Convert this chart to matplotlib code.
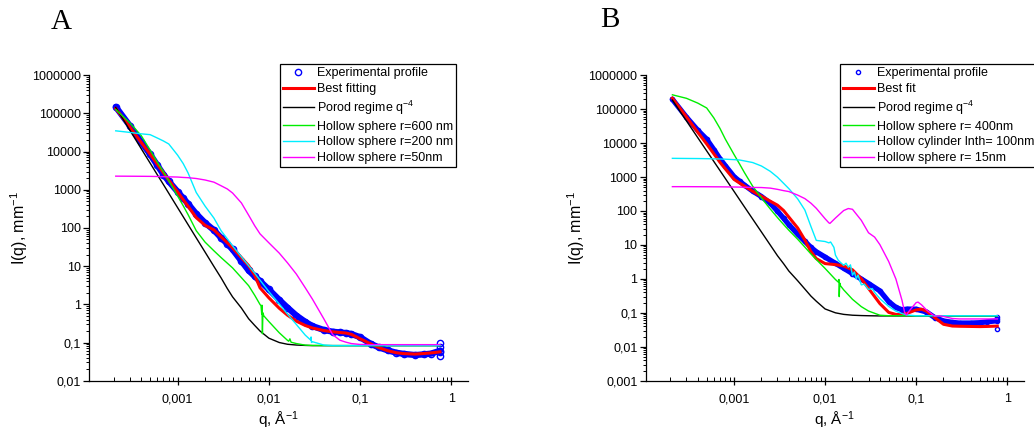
import numpy as np
import matplotlib
matplotlib.use("Agg")
import matplotlib.pyplot as plt
from matplotlib.ticker import LogLocator, NullFormatter

plt.rcParams['font.family'] = ['Liberation Sans', 'DejaVu Sans']
plt.rcParams['mathtext.default'] = 'regular'

# ---------------- Panel A data ----------------
qa = [2.1e-4, 3e-4, 4e-4, 5e-4, 6e-4, 7e-4, 8e-4, 1e-3, 1.15e-3, 1.3e-3, 1.6e-3,
      2e-3, 2.5e-3, 3e-3, 3.5e-3, 4e-3, 5e-3, 6e-3, 7e-3, 8e-3, 0.01, 0.013, 0.016,
      0.02, 0.025, 0.03, 0.04, 0.05, 0.06, 0.07, 0.08, 0.1, 0.13, 0.16, 0.2, 0.25,
      0.3, 0.4, 0.5, 0.6, 0.75]
a_exp = [1.48e5, 4.72e4, 1.76e4, 8.47e3, 4.35e3, 2.5e3, 1.66e3, 889, 603, 430, 234,
         136, 87.5, 55, 38.5, 27.3, 13.6, 7.7, 5.4, 4.05, 2.45, 1.31, 0.82,
         0.51, 0.35, 0.27, 0.213, 0.192, 0.184, 0.177, 0.167, 0.138, 0.093, 0.0746, 0.0625, 0.054,
         0.0504, 0.047, 0.049, 0.0513, 0.061]
a_exp_end_q = [0.75, 0.75, 0.75, 0.75]
a_exp_end_I = [0.1, 0.045, 0.075, 0.055]
a_fit = [1.34e5, 4.37e4, 1.72e4, 8.55e3, 4.62e3, 2.77e3, 1.79e3, 871, 553, 372, 186,
         117, 89, 58, 41, 30, 16.7, 10.3, 5.8, 2.71, 1.48, 0.79, 0.52,
         0.363, 0.28, 0.24, 0.206, 0.191, 0.183, 0.177, 0.164, 0.125, 0.093, 0.0736, 0.0612, 0.054,
         0.0513, 0.0498, 0.0516, 0.0535, 0.057]
a_porod = [1.43e5, 3.6e4, 1.18e4, 4.98e3, 2.46e3, 1.36e3, 809, 340, 198, 123, 55,
           23.3, 9.8, 4.9, 2.6, 1.57, 0.8, 0.42, 0.28, 0.2, 0.13, 0.1, 0.09,
           0.086, 0.084, 0.083, 0.083, 0.083, 0.083, 0.083, 0.083, 0.083, 0.083, 0.083, 0.083, 0.083,
           0.083, 0.083, 0.083, 0.083, 0.083]
q_a600 = [2.1e-4, 3e-4, 4e-4, 5e-4, 6e-4, 7e-4, 8e-4, 1e-3, 1.15e-3, 1.3e-3, 1.6e-3,
          2e-3, 2.5e-3, 3e-3, 3.5e-3, 4e-3, 5e-3, 6e-3, 7e-3, 8e-3, 0.0082, 0.00835, 0.0084,
          0.0085, 0.0086, 0.0088, 0.01, 0.013, 0.016, 0.0165, 0.017, 0.0175, 0.02, 0.025,
          0.03, 0.05, 0.1, 0.3, 0.75]
a_600 = [1.26e5, 5.65e4, 2.6e4, 1.09e4, 5.24e3, 2.91e3, 1.72e3, 686, 384, 225, 84.7,
         42.5, 25.2, 16.7, 12, 9, 5.0, 3.08, 1.72, 0.99, 0.92, 0.55, 0.95,
         0.17, 0.6, 0.5, 0.354, 0.18, 0.114, 0.108, 0.125, 0.102, 0.094, 0.0855,
         0.084, 0.083, 0.083, 0.083, 0.083]
q_a200 = [2.1e-4, 3e-4, 4e-4, 5e-4, 6e-4, 7e-4, 8e-4, 1e-3, 1.15e-3, 1.3e-3, 1.6e-3,
          2e-3, 2.5e-3, 3e-3, 3.5e-3, 4e-3, 5e-3, 6e-3, 7e-3, 8e-3, 0.01, 0.013, 0.016,
          0.02, 0.025, 0.0288, 0.029, 0.0293, 0.03, 0.04, 0.05, 0.1, 0.3, 0.75]
a_200 = [3.49e4, 3.17e4, 2.91e4, 2.77e4, 2.26e4, 1.89e4, 1.58e4, 8.05e3, 4.87e3, 2.78e3, 847,
         373, 181, 84, 52, 33.9, 17.5, 10.3, 6.5, 4.3, 2.15, 1.02, 0.556,
         0.297, 0.157, 0.115, 0.14, 0.1, 0.105, 0.086, 0.083, 0.083, 0.083, 0.083]
a_50 = [2.27e3, 2.26e3, 2.25e3, 2.24e3, 2.22e3, 2.2e3, 2.18e3, 2.15e3, 2.1e3, 2.07e3, 1.97e3,
        1.8e3, 1.58e3, 1.27e3, 1.05e3, 822, 452, 216, 114, 70, 40.8, 21.9, 12.2,
        6.2, 2.73, 1.37, 0.418, 0.161, 0.115, 0.102, 0.094, 0.089, 0.088, 0.088, 0.088, 0.088,
        0.088, 0.088, 0.088, 0.088, 0.088]

# ---------------- Panel B data ----------------
qb = [2.1e-4, 3e-4, 4e-4, 5e-4, 6e-4, 7e-4, 8e-4, 1e-3, 1.15e-3, 1.3e-3, 1.6e-3,
      2e-3, 2.5e-3, 3e-3, 3.5e-3, 4e-3, 5e-3, 6e-3, 7e-3, 8e-3, 0.01, 0.013, 0.016,
      0.02, 0.025, 0.03, 0.04, 0.05, 0.06, 0.07, 0.08, 0.1, 0.13, 0.16, 0.2, 0.25,
      0.3, 0.4, 0.5, 0.6, 0.78]
b_exp = [1.95e5, 5.78e4, 2.37e4, 1.3e4, 6.41e3, 3.44e3, 2.16e3, 1.02e3, 750, 578, 385,
         266, 169, 99, 61, 39.5, 20.7, 12.7, 8.4, 6.3, 4.39, 2.87, 2.05,
         1.43, 0.99, 0.73, 0.443, 0.214, 0.144, 0.123, 0.129, 0.128, 0.106, 0.0728, 0.0578, 0.0524,
         0.0499, 0.05, 0.0512, 0.0542, 0.0585]
b_exp_end_q = [0.78, 0.78, 0.78]
b_exp_end_I = [0.075, 0.034, 0.065]
q_bfit = [2.1e-4, 3e-4, 4e-4, 5e-4, 6e-4, 7e-4, 8e-4, 1e-3, 1.15e-3, 1.3e-3, 1.6e-3,
          2e-3, 2.5e-3, 3e-3, 3.5e-3, 4e-3, 5e-3, 6e-3, 7e-3, 8e-3, 0.01, 0.013, 0.016,
          0.02, 0.025, 0.03, 0.04, 0.05, 0.06, 0.07, 0.08, 0.1, 0.115, 0.13, 0.16, 0.2, 0.25,
          0.3, 0.4, 0.5, 0.6, 0.78]
b_fit = [2.1e5, 5.87e4, 2.06e4, 9.44e3, 4.82e3, 2.72e3, 1.75e3, 848, 665, 540, 381,
         272, 194, 148, 103, 66, 31.5, 13.9, 6.3, 3.96, 2.82, 2.63, 2.4,
         1.85, 1.01, 0.525, 0.187, 0.103, 0.0895, 0.0895, 0.0966, 0.122, 0.128, 0.112, 0.0724, 0.046, 0.0408,
         0.0402, 0.0397, 0.0393, 0.0397, 0.0407]
b_porod = [1.85e5, 4.48e4, 1.43e4, 5.89e3, 2.86e3, 1.55e3, 912, 376, 215, 132, 58,
           24, 9.9, 4.8, 2.8, 1.7, 0.88, 0.5, 0.31, 0.22, 0.13, 0.1, 0.09,
           0.085, 0.083, 0.082, 0.081, 0.081, 0.081, 0.081, 0.081, 0.081, 0.081, 0.081, 0.081, 0.081,
           0.081, 0.081, 0.081, 0.081, 0.081]
q_b400 = [2.1e-4, 3e-4, 4e-4, 5e-4, 6e-4, 7e-4, 8e-4, 1e-3, 1.15e-3, 1.3e-3, 1.6e-3,
          2e-3, 2.5e-3, 3e-3, 3.5e-3, 4e-3, 5e-3, 6e-3, 7e-3, 8e-3, 0.01, 0.013, 0.014,
          0.0142, 0.0143, 0.0145, 0.0148, 0.016, 0.02, 0.025, 0.03, 0.04, 0.05, 0.1, 0.3, 0.78]
b_400 = [2.64e5, 2.08e5, 1.5e5, 1.08e5, 5.48e4, 2.7e4, 1.32e4, 4.58e3, 2.41e3, 1.35e3, 538,
         242, 114, 63.7, 39.9, 27, 14.7, 8.6, 5.42, 3.72, 2.03, 0.955, 0.8,
         0.96, 0.3, 0.75, 0.62, 0.475, 0.25, 0.152, 0.113, 0.085, 0.082, 0.082, 0.082, 0.082]
q_bcyl = [2.1e-4, 3e-4, 4e-4, 5e-4, 6e-4, 7e-4, 8e-4, 1e-3, 1.15e-3, 1.3e-3, 1.6e-3,
          2e-3, 2.5e-3, 3e-3, 3.5e-3, 4e-3, 5e-3, 6e-3, 7e-3, 8e-3, 0.01, 0.011, 0.0115,
          0.0125, 0.013, 0.014, 0.016, 0.017, 0.018, 0.019, 0.02, 0.021, 0.022, 0.023,
          0.025, 0.027, 0.03, 0.033, 0.035, 0.04, 0.05, 0.06, 0.07, 0.08, 0.1, 0.3, 0.78]
b_cyl = [3.55e3, 3.52e3, 3.5e3, 3.47e3, 3.43e3, 3.4e3, 3.35e3, 3.25e3, 3.17e3, 2.98e3, 2.67e3,
         2.11e3, 1.47e3, 988, 653, 455, 227, 106, 34.6, 13.6, 12.6, 11.5, 12.2,
         8.5, 5.0, 3.5, 2.5, 2.9, 2.2, 2.6, 1.28, 1.6, 1.0, 1.3,
         0.665, 0.7, 0.489, 0.52, 0.4, 0.262, 0.154, 0.112, 0.095, 0.086, 0.082, 0.082, 0.082]
q_b15 = [2.1e-4, 3e-4, 4e-4, 5e-4, 6e-4, 7e-4, 8e-4, 1e-3, 1.15e-3, 1.3e-3, 1.6e-3,
         2e-3, 2.5e-3, 3e-3, 3.5e-3, 4e-3, 5e-3, 6e-3, 7e-3, 8e-3, 0.01, 0.011, 0.0113,
         0.013, 0.016, 0.018, 0.02, 0.025, 0.03, 0.035, 0.04, 0.05, 0.06, 0.07, 0.075,
         0.078, 0.085, 0.1, 0.105, 0.115, 0.13, 0.16, 0.18, 0.2, 0.25, 0.3, 0.5, 0.78]
b_15 = [520, 520, 518, 517, 515, 514, 512, 508, 505, 500, 493,
        490, 471, 433, 397, 373, 293, 231, 169, 120, 59, 44.7, 43,
        62, 103, 118, 112, 53, 22.8, 17, 10.2, 3.24, 0.99, 0.233, 0.1,
        0.086, 0.118, 0.199, 0.207, 0.171, 0.122, 0.079, 0.082, 0.078, 0.068, 0.066, 0.066, 0.066]

xtick_vals = [1e-3, 1e-2, 1e-1, 1]
xtick_labels = ["0,001", "0,01", "0,1", "1"]
ytick_vals_a = [1e-2, 1e-1, 1, 10, 100, 1000, 1e4, 1e5, 1e6]
ytick_labels_a = ["0,01", "0,1", "1", "10", "100", "1000", "10000", "100000", "1000000"]
ytick_vals_b = [1e-3, 1e-2, 1e-1, 1, 10, 100, 1000, 1e4, 1e5, 1e6]
ytick_labels_b = ["0,001", "0,01", "0,1", "1", "10", "100", "1000", "10000", "100000", "1000000"]

labels_a = ["Experimental profile", "Best fitting", "Porod regime q$^{-4}$",
            "Hollow sphere r=600 nm", "Hollow sphere r=200 nm", "Hollow sphere r=50nm"]
labels_b = ["Experimental profile", "Best fit", "Porod regime q$^{-4}$",
            "Hollow sphere r= 400nm", "Hollow cylinder lnth= 100nm", "Hollow sphere r= 15nm"]

BLUE = '#0000ff'
RED = '#ff0000'
GREEN = '#00ee00'
CYAN = '#00eeff'
MAG = '#ff00ff'

fig = plt.figure(figsize=(10.34, 4.32), dpi=100)
axA = fig.add_axes([0.0861, 0.1187, 0.4526 - 0.0861, 0.826 - 0.1187])
axB = fig.add_axes([0.6245, 0.1187, 0.990 - 0.6245, 0.826 - 0.1187])


def style(ax, ylim, yt, ytl):
    ax.set_xscale('log')
    ax.set_yscale('log')
    ax.set_xlim(1.07e-4, 1.52)
    ax.set_ylim(*ylim)
    for s in ['top', 'right']:
        ax.spines[s].set_visible(False)
    for s in ['left', 'bottom']:
        ax.spines[s].set_linewidth(0.9)
    ax.set_xticks(xtick_vals)
    ax.set_xticklabels(xtick_labels)
    ax.set_yticks(yt)
    ax.set_yticklabels(ytl)
    ax.xaxis.set_minor_locator(LogLocator(base=10, subs=np.arange(2, 10), numticks=100))
    ax.yaxis.set_minor_locator(LogLocator(base=10, subs=np.arange(2, 10), numticks=100))
    ax.xaxis.set_minor_formatter(NullFormatter())
    ax.yaxis.set_minor_formatter(NullFormatter())
    ax.tick_params(axis='x', which='major', direction='inout', length=6, width=0.9, labelsize=9, pad=6)
    ax.tick_params(axis='x', which='minor', direction='in', length=3, width=0.7)
    ax.tick_params(axis='y', which='major', direction='out', length=4, width=0.9, labelsize=9, pad=2)
    ax.tick_params(axis='y', which='minor', direction='out', length=2.5, width=0.7)
    ax.set_xlabel("q, Å$^{-1}$", fontsize=11, labelpad=3)
    ax.set_ylabel("I(q), mm$^{-1}$", fontsize=11.5, labelpad=1)


# Panel A
axA.plot(qa, a_exp, color=BLUE, lw=4.5, solid_capstyle='round', zorder=2)
axA.plot(qa + a_exp_end_q, a_exp + a_exp_end_I, 'o', mfc='none', mec=BLUE, ms=4.5, mew=1.0,
         zorder=2, label=labels_a[0])
axA.plot(qa, a_fit, color=RED, lw=2.2, zorder=3, label=labels_a[1])
axA.plot(qa, a_porod, color='black', lw=1.0, zorder=4, label=labels_a[2])
axA.plot(q_a600, a_600, color=GREEN, lw=1.0, zorder=5, label=labels_a[3])
axA.plot(q_a200, a_200, color=CYAN, lw=1.0, zorder=6, label=labels_a[4])
axA.plot(qa, a_50, color=MAG, lw=1.0, zorder=7, label=labels_a[5])
style(axA, (0.01, 1e6), ytick_vals_a, ytick_labels_a)

# Panel B
axB.plot(qb, b_exp, color=BLUE, lw=3.8, solid_capstyle='round', zorder=2)
axB.plot(qb + b_exp_end_q, b_exp + b_exp_end_I, 'o', mfc='none', mec=BLUE, ms=3, mew=1.0,
         zorder=2, label=labels_b[0])
axB.plot(q_bfit, b_fit, color=RED, lw=2.2, zorder=3, label=labels_b[1])
axB.plot(qb, b_porod, color='black', lw=1.0, zorder=4, label=labels_b[2])
axB.plot(q_b400, b_400, color=GREEN, lw=1.0, zorder=5, label=labels_b[3])
axB.plot(q_bcyl, b_cyl, color=CYAN, lw=1.0, zorder=6, label=labels_b[4])
axB.plot(q_b15, b_15, color=MAG, lw=1.0, zorder=7, label=labels_b[5])
style(axB, (0.001, 1e6), ytick_vals_b, ytick_labels_b)

for ax, x0, fs in [(axA, 280 / 1034, 9), (axB, 840 / 1034, 9)]:
    leg = ax.legend(loc='upper left', bbox_to_anchor=(x0, 1 - 64 / 432),
                    bbox_transform=fig.transFigure, fontsize=fs, frameon=True,
                    fancybox=False, edgecolor='black', framealpha=1,
                    borderpad=0.25, labelspacing=0.3, handlelength=2.45,
                    handletextpad=0.25, borderaxespad=0)
    leg.get_frame().set_linewidth(0.9)

fig.text(61.5 / 1034, 1 - 21.7 / 432, "A", fontsize=21, family='Liberation Serif',
         ha='center', va='center')
fig.text(610 / 1034, 1 - 19.7 / 432, "B", fontsize=21, family='Liberation Serif',
         ha='center', va='center')

fig.savefig("out.png", dpi=100)
